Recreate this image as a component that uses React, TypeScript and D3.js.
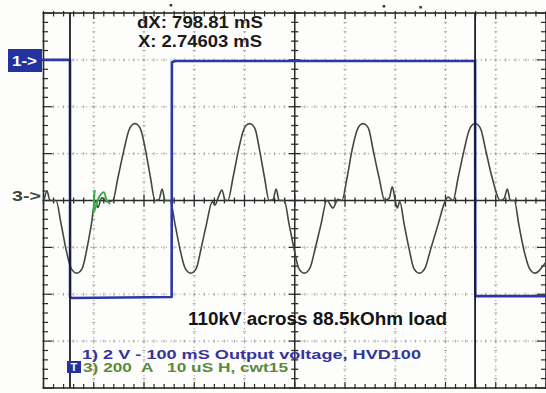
import React from "react";
import * as d3 from "d3";

// Channel 3 (current, 10 uS/div, 200 A/div)
const ch3TimeUs = [
  0.1, 0.7, 1.3, 2.5, 3.5, 4.5, 5.4, 6.0, 6.6, 7.2, 7.8, 8.6, 9.5, 10.3, 10.8, 11.6, 12.6,
  13.8, 14.8, 16.0, 17.0, 17.6, 18.2, 18.8, 19.4, 20.3, 21.3, 22.2,
  23.0, 23.6, 24.2,
  25.2, 26.2, 27.2, 28.1, 28.7, 29.3, 29.9, 30.5, 31.3, 32.4, 33.6,
  34.1, 34.9, 35.5, 36.2,
  36.7, 37.7, 38.8, 39.8, 40.4, 41.0, 41.6, 42.2, 43.0, 44.0, 44.9,
  45.7, 46.3, 46.9,
  47.9, 48.9, 49.9, 50.7, 51.3, 51.9, 52.5, 53.1, 54.0, 55.2, 56.4,
  57.6, 58.6,
  59.4, 60.4, 61.4, 62.4, 63.0, 63.6, 64.2, 64.8, 65.6, 66.8, 67.9,
  68.8, 69.4, 70.0, 70.4,
  70.9, 71.8, 72.8, 73.6, 74.2, 74.8, 75.4, 76.0, 77.0, 78.5, 79.9,
  80.5,
  81.5, 82.5, 83.7, 84.7, 85.3, 85.9, 86.5, 87.1, 88.0, 89.3, 90.9,
  91.7, 92.3, 92.9,
  93.7, 94.6, 95.6, 96.6, 97.2, 97.8, 98.4, 99.0, 100,
];
const ch3Amps = [
  0, 40, 0, 0, -100, -210, -285, -304, -310, -304, -285, -210, -105, 0, -30, 12, -5,
  0, 96, 215, 300, 322, 328, 322, 300, 215, 96, 0,
  5, 49, 0,
  0, -104, -211, -285, -304, -310, -304, -285, -211, -104, -5,
  -20, 20, 45, 0,
  0, 96, 215, 300, 322, 328, 322, 300, 215, 96, 0,
  5, 49, 0,
  0, -104, -211, -285, -304, -310, -304, -285, -211, -104, 0,
  -32, 5,
  0, 96, 215, 300, 322, 328, 322, 300, 215, 96, 0,
  10, 58, 0, -32,
  -5, -104, -211, -285, -304, -310, -304, -285, -211, -104, -5,
  15,
  0, 96, 215, 300, 322, 328, 322, 300, 215, 96, 0,
  10, 49, 0,
  0, -104, -211, -285, -304, -310, -304, -290, -262,
];

// Green ground-marker squiggle on channel 3 zero line
const ch3MarkTimeUs = [10.2, 10.0, 10.5, 11.2, 12.0, 12.6, 13.3];
const ch3MarkAmps = [45, -50, -20, 20, 35, 0, -15];

// Channel 1 (output voltage, 100 mS/div, 2 V/div)
const ch1TimeMs = [0, 52.7, 52.9, 57, 255, 255.5, 262, 858.9, 859.3, 1000];
const ch1Volts = [6.0, 6.0, -4.12, -4.16, -4.12, 5.9, 5.95, 5.95, -4.08, -4.08];

// Time cursors (ms)
const cursorsMs = [52.7, 858.9];

// Trigger marks above the screen (ms)
const topMarksMs = [253, 677, 750];

const readoutLines = ["dX: 798.81 mS", "X: 2.74603 mS"];
const caption = "110kV across 88.5kOhm load";
const legendCh1 = "1) 2 V - 100 mS Output voltage, HVD100";
const legendCh3 = "3) 200  A   10 uS H, cwt15";

const W = 546;
const H = 393;
const L = 43.5, R = 546, T = 13, B = 388;

export default function App() {
  const gx = d3.scaleLinear().domain([0, 10]).range([L, R]);
  const gy = d3.scaleLinear().domain([-4, 4]).range([B, T]);
  const xUs = d3.scaleLinear().domain([0, 100]).range([L, R]);
  const xMs = d3.scaleLinear().domain([0, 1000]).range([L, R]);
  const yA = d3.scaleLinear().domain([-800, 800]).range([B, T]);
  const yV = d3.scaleLinear().domain([-8, 8]).range([B, T]);

  const ch3Line = d3
    .line<number>()
    .x((_, i) => xUs(ch3TimeUs[i]))
    .y((d) => yA(d))
    .curve(d3.curveMonotoneX);
  const markLine = d3
    .line<number>()
    .x((_, i) => xUs(ch3MarkTimeUs[i]))
    .y((d) => yA(d))
    .curve(d3.curveCatmullRom);
  const ch1Line = d3
    .line<number>()
    .x((_, i) => xMs(ch1TimeMs[i]))
    .y((d) => yV(d));

  const minorX = d3.range(0, 51).map((i) => i / 5);
  const minorY = d3.range(0, 41).map((i) => i / 5 - 4);
  const isMajor = (v: number) => Math.abs(v - Math.round(v)) < 1e-6;
  const cx = gx(5);
  const cy = gy(0);
  const tickCol = "#2a2a2a";

  return (
    <svg
      width={W}
      height={H}
      style={{ position: "fixed", left: 0, top: 0, background: "#fff" }}
      fontFamily="'Liberation Sans', Arial, sans-serif"
    >
      <rect x={0} y={0} width={W} height={H} fill="#fdfdfb" />
      {/* dotted grid */}
      {d3.range(1, 10).filter((k) => k !== 5).map((k) => (
        <line key={"gv" + k} x1={gx(k)} x2={gx(k)} y1={T} y2={B} stroke="#b4b4b4" strokeWidth={1.2} strokeDasharray="1.5,3.2" />
      ))}
      {d3.range(-3, 4).filter((k) => k !== 0).map((k) => (
        <line key={"gh" + k} x1={L} x2={R} y1={gy(k)} y2={gy(k)} stroke="#b4b4b4" strokeWidth={1.2} strokeDasharray="1.5,3.2" />
      ))}
      {/* minor dashes on grid lines */}
      {d3.range(1, 10).filter((k) => k !== 5).map((k) =>
        minorY.map((v, j) => (
          <line key={"gvm" + k + "_" + j} x1={gx(k) - 1.5} x2={gx(k) + 1.5} y1={gy(v)} y2={gy(v)} stroke="#a8a8a8" strokeWidth={1} />
        ))
      )}
      {d3.range(-3, 4).filter((k) => k !== 0).map((k) =>
        minorX.map((v, j) => (
          <line key={"ghm" + k + "_" + j} x1={gx(v)} x2={gx(v)} y1={gy(k) - 1.5} y2={gy(k) + 1.5} stroke="#a8a8a8" strokeWidth={1} />
        ))
      )}
      {/* center axes */}
      <line x1={L} x2={R} y1={cy} y2={cy} stroke={tickCol} strokeWidth={1.5} />
      <line x1={cx} x2={cx} y1={T} y2={B} stroke={tickCol} strokeWidth={1.5} />
      {minorX.map((v, i) => {
        const len = isMajor(v) ? 6 : 3;
        return <line key={"cxt" + i} x1={gx(v)} x2={gx(v)} y1={cy - len} y2={cy + len} stroke={tickCol} strokeWidth={1.3} />;
      })}
      {minorY.map((v, i) => {
        const len = isMajor(v) ? 6 : 3.5;
        return <line key={"cyt" + i} x1={cx - len} x2={cx + len} y1={gy(v)} y2={gy(v)} stroke={tickCol} strokeWidth={1.3} />;
      })}
      {/* border ticks */}
      {minorX.map((v, i) => (
        <g key={"bx" + i}>
          <line x1={gx(v)} x2={gx(v)} y1={T - 2} y2={T + (isMajor(v) ? 6 : 3.5)} stroke={tickCol} strokeWidth={1.2} />
          <line x1={gx(v)} x2={gx(v)} y1={B - (isMajor(v) ? 6 : 4)} y2={B + 1} stroke={tickCol} strokeWidth={1.2} />
        </g>
      ))}
      {minorY.map((v, i) => (
        <g key={"by" + i}>
          <line x1={L - 1} x2={L + (isMajor(v) ? 9 : 4.5)} y1={gy(v)} y2={gy(v)} stroke={tickCol} strokeWidth={1.2} />
          <line x1={R - (isMajor(v) ? 9 : 5)} x2={R} y1={gy(v)} y2={gy(v)} stroke={tickCol} strokeWidth={1.2} />
        </g>
      ))}
      {/* frame */}
      <rect x={L} y={T} width={R - L} height={B - T} fill="none" stroke={tickCol} strokeWidth={1.6} />
      {/* trigger marks */}
      {topMarksMs.map((m, i) => (
        <rect key={"tm" + i} x={xMs(m) - 1} y={4 + i} width={2.5} height={2.5} fill="#333" />
      ))}
      {/* channel 3 trace */}
      <path d={ch3Line(ch3Amps) || ""} fill="none" stroke="#3e4a3e" strokeWidth={1.6} strokeLinejoin="round" />
      <path d={markLine(ch3MarkAmps) || ""} fill="none" stroke="#3fae4a" strokeWidth={2} />
      {/* channel 1 trace */}
      <path d={ch1Line(ch1Volts) || ""} fill="none" stroke="#2c38a6" strokeWidth={2.6} strokeLinejoin="round" />
      {/* cursors */}
      {cursorsMs.map((m, i) => (
        <line key={"cur" + i} x1={xMs(m)} x2={xMs(m)} y1={T} y2={B} stroke="#1c1c24" strokeWidth={1.8} />
      ))}
      {/* channel markers */}
      <rect x={8} y={49} width={34} height={23} fill="#2233a0" />
      <text x={12} y={66} fill="#fff" fontSize={14} fontWeight="bold" textLength={25} lengthAdjust="spacingAndGlyphs">1-&gt;</text>
      <line x1={42} x2={L} y1={yV(6)} y2={yV(6)} stroke="#2c38a6" strokeWidth={2.6} />
      <text x={12} y={201} fill="#3b463b" fontSize={15} fontWeight="bold" textLength={29} lengthAdjust="spacingAndGlyphs">3-&gt;</text>
      {/* readouts */}
      <text x={137} y={27.5} fill="#1a1a1a" fontSize={17} fontWeight="bold" textLength={126} lengthAdjust="spacingAndGlyphs">{readoutLines[0]}</text>
      <text x={138} y={47} fill="#1a1a1a" fontSize={17} fontWeight="bold" textLength={124} lengthAdjust="spacingAndGlyphs">{readoutLines[1]}</text>
      <text x={188} y={325} fill="#141414" fontSize={18} fontWeight="bold" textLength={259} lengthAdjust="spacingAndGlyphs">{caption}</text>
      {/* legend */}
      <text x={82} y={358.5} fill="#34349c" fontSize={13} fontWeight="bold" textLength={339} lengthAdjust="spacingAndGlyphs" style={{ whiteSpace: "pre" }}>{legendCh1}</text>
      <rect x={67} y={361} width={14} height={12} fill="#2233a0" />
      <text x={70.5} y={371} fill="#fff" fontSize={11} fontWeight="bold">T</text>
      <text x={83} y={371.5} fill="#5a8a3c" fontSize={12.5} fontWeight="bold" textLength={205} lengthAdjust="spacingAndGlyphs" style={{ whiteSpace: "pre" }}>{legendCh3}</text>
    </svg>
  );
}
